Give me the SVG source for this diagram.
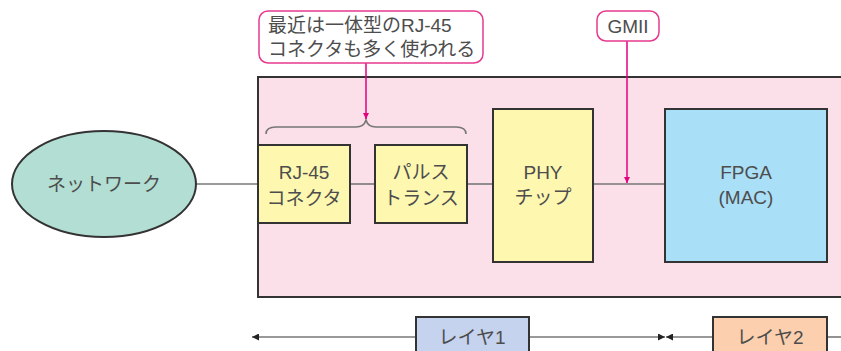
<svg xmlns="http://www.w3.org/2000/svg" width="841" height="351" viewBox="0 0 841 351">
<defs>
<style>
text{font-family:"Liberation Sans","Noto Sans CJK JP",sans-serif;fill:#4d4d4d;font-size:19px;text-anchor:middle;dominant-baseline:central}
.box{stroke:#333;stroke-width:2}
.conn{stroke:#777;stroke-width:1.6;fill:none}
.call{fill:#fff;stroke:#e6398e;stroke-width:1.5}
.parr{stroke:#e5007f;stroke-width:1.5;fill:none}
</style>
<marker id="pa" viewBox="0 0 10 10" refX="10" refY="5" markerWidth="6" markerHeight="9" markerUnits="userSpaceOnUse" orient="auto"><path d="M0,0L10,5L0,10z" fill="#e5007f"/></marker>
<marker id="ga" viewBox="0 0 10 10" refX="10" refY="5" markerWidth="10" markerHeight="7" markerUnits="userSpaceOnUse" orient="auto"><path d="M0,0L10,5L0,10z" fill="#222"/></marker>
</defs>
<g id="board"><rect x="258" y="77" width="600" height="220" fill="#fbdfe9" class="box"/></g>
<g id="connectors">
<line class="conn" x1="196" y1="184" x2="258" y2="184"/>
<line class="conn" x1="350" y1="184" x2="375" y2="184"/>
<line class="conn" x1="467" y1="184" x2="493" y2="184"/>
<line class="conn" x1="593" y1="184" x2="665" y2="184"/>
<path class="conn" d="M266,134 Q266,127 276,127 L356,127 Q364,127 366,120 Q368,127 376,127 L456,127 Q466,127 466,134" stroke="#555" stroke-width="1.2"/>
<line class="parr" x1="366" y1="63" x2="366" y2="119" marker-end="url(#pa)"/>
<line class="parr" x1="627" y1="41" x2="627" y2="183" marker-end="url(#pa)"/>
<line class="conn" x1="416" y1="337" x2="252" y2="337" marker-end="url(#ga)"/>
<line class="conn" x1="529" y1="337" x2="665" y2="337" marker-end="url(#ga)"/>
<line class="conn" x1="713" y1="337" x2="666" y2="337" marker-end="url(#ga)"/>
<line class="conn" x1="827" y1="337" x2="841" y2="337"/>
</g>
<g id="network"><ellipse cx="104" cy="184" rx="92" ry="53" fill="#b2ded3" class="box"/><text x="104" y="184">ネットワーク</text></g>
<g id="rj45"><rect x="258" y="145" width="92" height="78" fill="#fef7b0" class="box"/><text x="304" y="172">RJ-45</text><text x="304" y="198">コネクタ</text></g>
<g id="pulse"><rect x="375" y="145" width="92" height="78" fill="#fef7b0" class="box"/><text x="421" y="172">パルス</text><text x="421" y="198">トランス</text></g>
<g id="phy"><rect x="493" y="109" width="100" height="153" fill="#fef7b0" class="box"/><text x="543" y="172">PHY</text><text x="543" y="197">チップ</text></g>
<g id="fpga"><rect x="665" y="109" width="162" height="153" fill="#aadff8" class="box"/><text x="746" y="172">FPGA</text><text x="746" y="197">(MAC)</text></g>
<g id="note1"><rect x="259" y="11" width="224" height="52" rx="9" class="call"/><text x="268" y="25" style="text-anchor:start">最近は一体型のRJ-45</text><text x="268" y="49" style="text-anchor:start">コネクタも多く使われる</text></g>
<g id="gmii"><rect x="597" y="11" width="62" height="30" rx="9" class="call"/><text x="628" y="26">GMII</text></g>
<g id="layer1"><rect x="416" y="317" width="113" height="40" fill="#c5d3ee" class="box"/><text x="472" y="337">レイヤ1</text></g>
<g id="layer2"><rect x="713" y="317" width="114" height="40" fill="#fcd0ae" class="box"/><text x="770" y="337">レイヤ2</text></g>
</svg>
